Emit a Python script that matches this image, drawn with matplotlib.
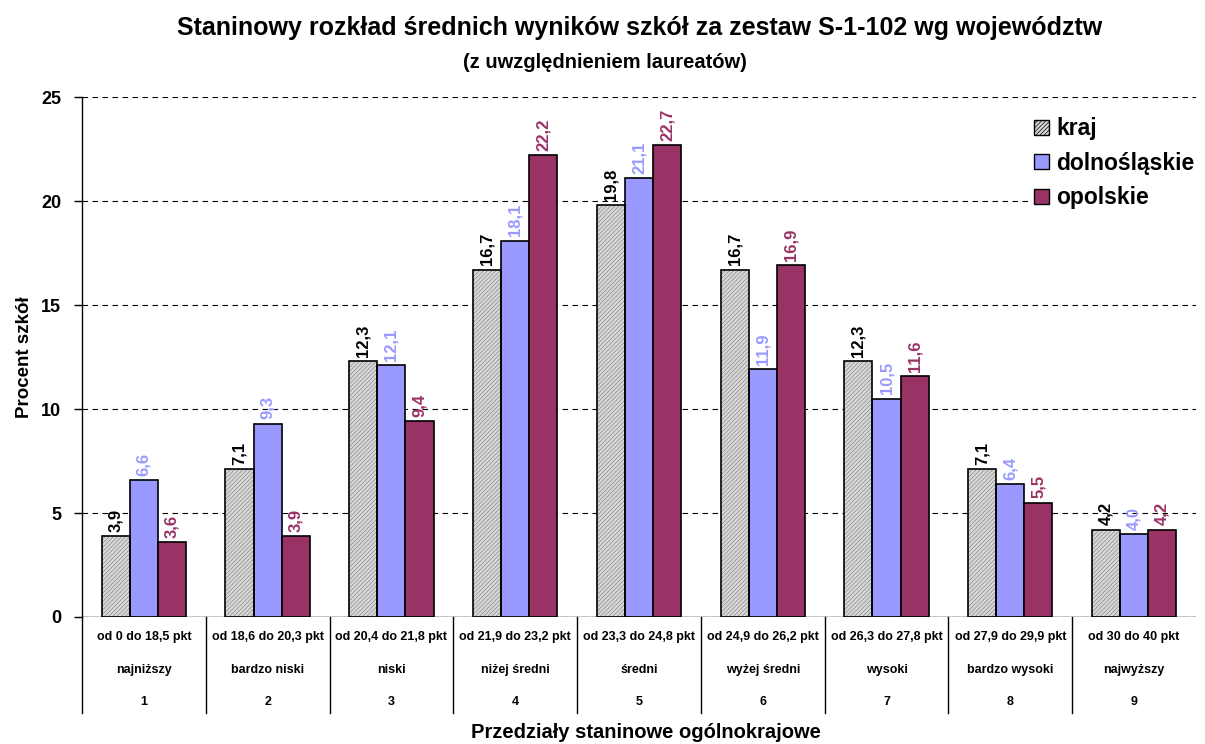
import matplotlib.pyplot as plt
from matplotlib.patches import Patch
from matplotlib.lines import Line2D
import matplotlib.transforms as mtransforms
import numpy as np

plt.rcParams['font.family'] = ['Liberation Sans', 'DejaVu Sans']
plt.rcParams['font.weight'] = 'bold'
plt.rcParams['hatch.linewidth'] = 0.5
plt.rcParams['hatch.color'] = '#8a8a8a'

series_names = ['kraj', 'dolnośląskie', 'opolskie']
kraj = [3.9, 7.1, 12.3, 16.7, 19.8, 16.7, 12.3, 7.1, 4.2]
dolnoslaskie = [6.6, 9.3, 12.1, 18.1, 21.1, 11.9, 10.5, 6.4, 4.0]
opolskie = [3.6, 3.9, 9.4, 22.2, 22.7, 16.9, 11.6, 5.5, 4.2]

ranges = ['od 0 do 18,5 pkt', 'od 18,6 do 20,3 pkt', 'od 20,4 do 21,8 pkt',
          'od 21,9 do 23,2 pkt', 'od 23,3 do 24,8 pkt', 'od 24,9 do 26,2 pkt',
          'od 26,3 do 27,8 pkt', 'od 27,9 do 29,9 pkt', 'od 30 do 40 pkt']
stanine_names = ['najniższy', 'bardzo niski', 'niski', 'niżej średni', 'średni',
                 'wyżej średni', 'wysoki', 'bardzo wysoki', 'najwyższy']
stanine_numbers = ['1', '2', '3', '4', '5', '6', '7', '8', '9']

colors = ['#d8d8d8', '#9999ff', '#993366']
label_colors = ['black', '#9999ff', '#993366']

fig = plt.figure(figsize=(12.05, 7.44), dpi=100)
ax = fig.add_axes([0.068, 0.1707, 0.9245, 0.6989])

x = np.arange(len(kraj))
w = 0.227
for i, (vals, col, lcol) in enumerate(zip([kraj, dolnoslaskie, opolskie], colors, label_colors)):
    pos = x + (i - 1) * w
    if i == 0:
        # hatched fill first (light hatch), then black outline on top
        ax.bar(pos, vals, width=w, color=col, hatch='////////', edgecolor='#8a8a8a',
               linewidth=0, zorder=3)
        ax.bar(pos, vals, width=w, fill=False, edgecolor='black', linewidth=1.2, zorder=3.5)
    else:
        ax.bar(pos, vals, width=w, color=col, edgecolor='black', linewidth=1.2, zorder=3)
    for p, v in zip(pos, vals):
        ax.annotate(('%.1f' % v).replace('.', ','), (p, v), xytext=(0, 3),
                    textcoords='offset points', rotation=90, ha='center', va='bottom',
                    fontsize=12, fontweight='bold', color=lcol)

ax.set_xlim(-0.5, 8.5)
ax.set_ylim(0, 25)
ax.set_yticks([0, 5, 10, 15, 20, 25])
ax.tick_params(axis='y', labelsize=13, length=6, direction='out', width=1, pad=9)
ax.set_xticks([])
for s in ['top', 'right', 'bottom']:
    ax.spines[s].set_visible(False)
ax.spines['left'].set_linewidth(1)
ax.yaxis.grid(True, linestyle=(0, (5, 4)), color='black', linewidth=0.8, zorder=0)
ax.axhline(0, color='black', linewidth=1, zorder=4)
ax.set_ylabel('Procent szkół', fontsize=13.5, fontweight='bold', labelpad=6)

# table under the chart
trans = mtransforms.blended_transform_factory(ax.transData, ax.transAxes)
for k in range(len(kraj)):
    ax.add_line(Line2D([k - 0.5, k - 0.5], [0, -0.185], transform=trans, color='black',
                       linewidth=1, clip_on=False))
row_y = [-0.038, -0.102, -0.163]
for k in range(len(kraj)):
    for ry, txt in zip(row_y, [ranges[k], stanine_names[k], stanine_numbers[k]]):
        ax.text(k, ry, txt, transform=trans, ha='center', va='center',
                fontsize=9, fontweight='bold')

fig.text(646 / 1205, 1 - 733 / 744, 'Przedziały staninowe ogólnokrajowe', ha='center',
         va='center', fontsize=14.5, fontweight='bold')
fig.text(640 / 1205, 1 - 28 / 744,
         'Staninowy rozkład średnich wyników szkół za zestaw S-1-102 wg województw',
         ha='center', va='center', fontsize=18, fontweight='bold')
fig.text(605 / 1205, 1 - 63 / 744, '(z uwzględnieniem laureatów)', ha='center', va='center',
         fontsize=14.5, fontweight='bold')

handles = [Patch(facecolor=c, edgecolor='black', hatch='////////' if i == 0 else None)
           for i, c in enumerate(colors)]
leg = fig.legend(handles, series_names, loc='upper left',
                 bbox_to_anchor=(1031 / 1205, 1 - 114 / 744),
                 frameon=True, fancybox=False, framealpha=1, borderpad=0.15,
                 prop={'size': 16.5, 'weight': 'bold'}, handlelength=0.65,
                 handleheight=0.65, handletextpad=0.3, labelspacing=0.5, borderaxespad=0)
leg.get_frame().set_facecolor('white')
leg.get_frame().set_edgecolor('none')

fig.savefig('out.png', dpi=100)
